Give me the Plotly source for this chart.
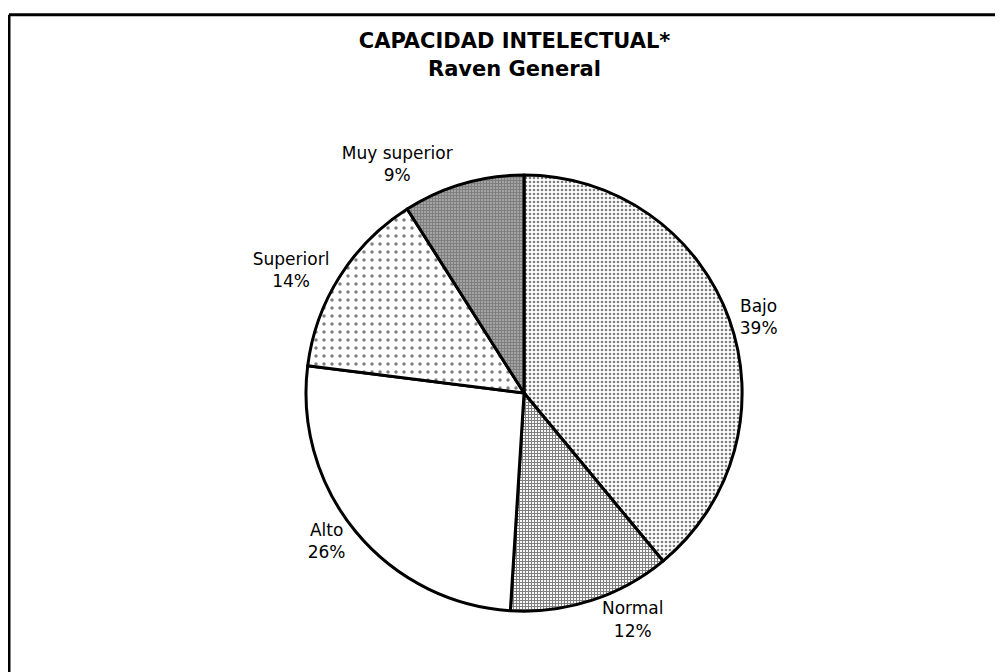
import plotly.graph_objects as go

# slices, clockwise from 12 o'clock
categorias = ['Bajo', 'Normal', 'Alto', 'Superiorl', 'Muy superior']
porcentajes = [39, 12, 26, 14, 9]

titulo = 'CAPACIDAD INTELECTUAL*'
subtitulo = 'Raven General'

# fill pattern per slice (scanned halftones)
formas = ['.', '+', '', '.', '+']
tamanos = [4, 3, 8, 8, 3]
solidez = [0.35, 0.6, 0.1, 0.15, 0.85]

fig = go.Figure(go.Pie(
    labels=categorias,
    values=porcentajes,
    sort=False,
    direction='clockwise',
    rotation=0,
    texttemplate='%{label}<br>%{value}%',
    textposition='outside',
    textfont=dict(family='DejaVu Sans', size=17, color='black'),
    marker=dict(
        colors=['white'] * 5,
        line=dict(color='black', width=3),
        pattern=dict(shape=formas, size=tamanos, solidity=solidez,
                     fgcolor='black', bgcolor='white', fillmode='overlay'),
    ),
    domain=dict(x=[0.232, 0.797], y=[0.1025, 0.7515]),
    showlegend=False,
    hoverinfo='label+percent',
))

fig.update_layout(
    width=1003,
    height=672,
    margin=dict(l=0, r=0, t=0, b=0),
    paper_bgcolor='white',
    plot_bgcolor='white',
    title=dict(
        text=f'<b>{titulo}</b><br><b>{subtitulo}</b>',
        x=0.505, xanchor='center',
        y=0.94, yanchor='top',
        font=dict(family='DejaVu Sans', size=21, color='black'),
    ),
    shapes=[
        dict(type='line', xref='paper', yref='paper', x0=0.001, x1=1.0, y0=0.99, y1=0.99,
             line=dict(color='black', width=3)),
        dict(type='line', xref='paper', yref='paper', x0=0.001, x1=0.001, y0=0.0, y1=0.99,
             line=dict(color='black', width=3)),
    ],
)

fig.write_html('out.html')
